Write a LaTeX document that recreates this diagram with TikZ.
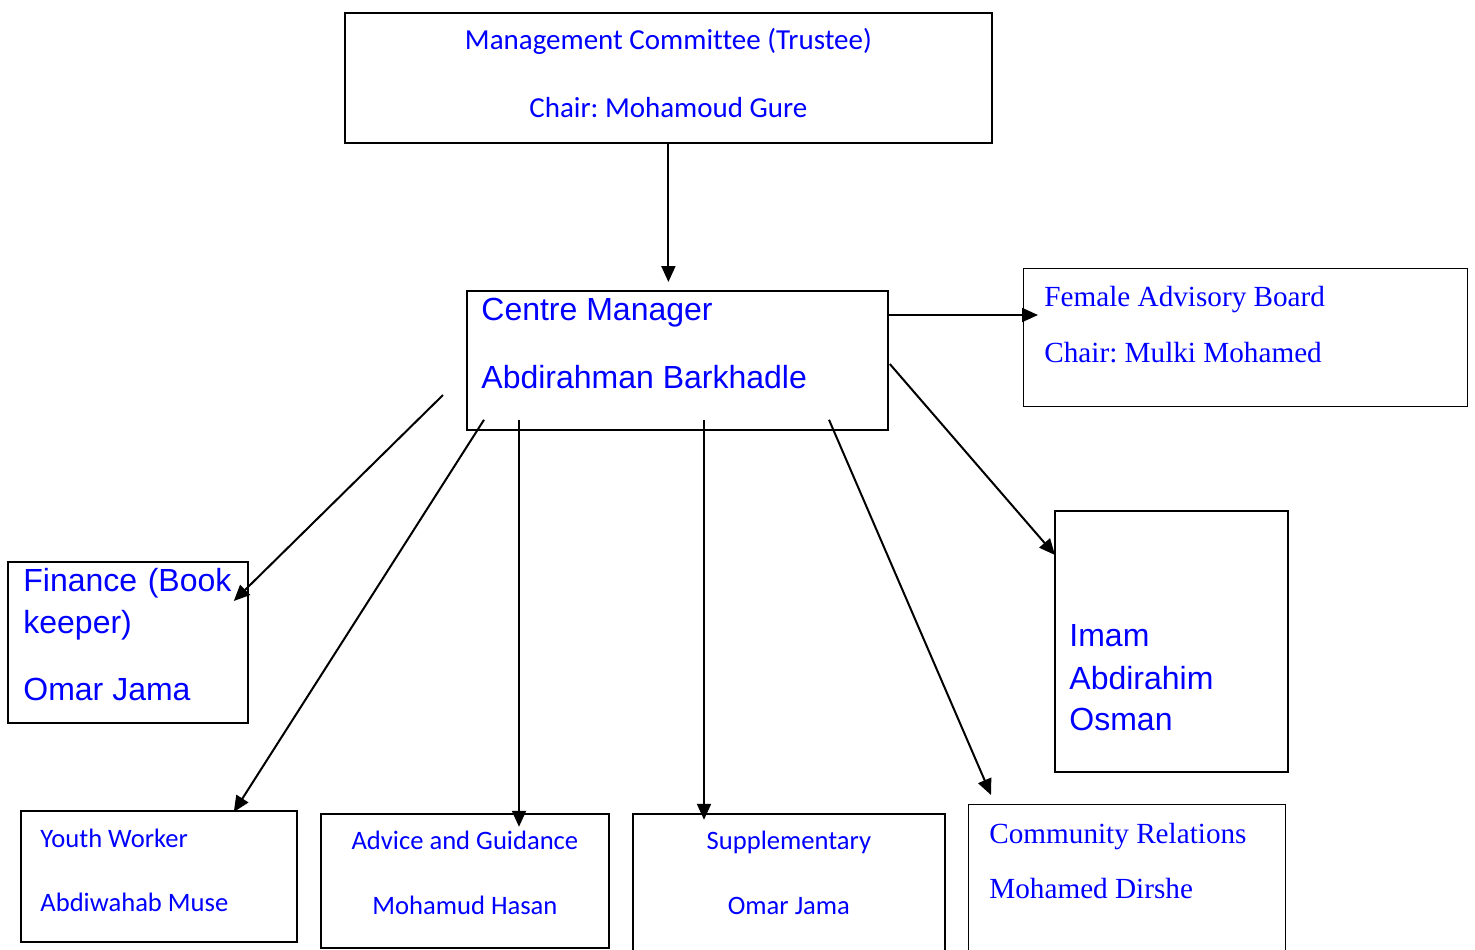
\documentclass[tikz,border=0pt]{standalone}
\usepackage{fontspec}
\usepackage{tikz}
\usetikzlibrary{arrows.meta,calc,positioning}
\newfontfamily\calibrifont[Ligatures=NoCommon]{Carlito}
\newfontfamily\arialfont{Liberation Sans}
\newfontfamily\timesfont{Liberation Serif}
\frenchspacing
\definecolor{txtblue}{RGB}{0,0,255}
\tikzstyle{org}=[
  >={Triangle[length=8pt,width=7pt]}, x=0.5pt, y=-0.5pt
]
\tikzstyle{box}=[
  draw, line width=0.9pt, rectangle, anchor=north west, inner sep=0pt
]
\tikzstyle{thinbox}=[
  box, line width=0.6pt
]
\tikzstyle{cal}=[
  inner sep=0pt, text=txtblue, font=\calibrifont\fontsize{14.5}{16}\selectfont
]
\tikzstyle{calsmall}=[
  inner sep=0pt, text=txtblue, font=\calibrifont\fontsize{13.3}{15}\selectfont
]
\tikzstyle{ari}=[
  inner sep=0pt, text=txtblue, font=\arialfont\fontsize{16}{18}\selectfont
]
\tikzstyle{tms}=[
  inner sep=0pt, text=txtblue, font=\timesfont\fontsize{14.6}{16}\selectfont
]
\tikzstyle{link}=[
  ->, line width=1pt
]

\begin{document}
\begin{tikzpicture}[org]
    \useasboundingbox (0,0) rectangle (1475,949);
    % boxes
    \node (mc) at (344,12) [box, minimum width=323.5pt, minimum height=65pt] {};
    \node (mgr) at (466,290) [box, minimum width=210.5pt, minimum height=69.5pt] {};
    \node (fab) at (1023,268) [thinbox, minimum width=222pt, minimum height=69pt] {};
    \node (fin) at (7,561) [box, minimum width=120pt, minimum height=80.5pt] {};
    \node (imam) at (1054,510) [box, minimum width=116.5pt, minimum height=130.5pt] {};
    \node (yw) at (20,810) [box, minimum width=138pt, minimum height=65.5pt] {};
    \node (adv) at (320,813) [box, minimum width=144pt, minimum height=67pt] {};
    \node (sup) at (632,813) [box, minimum width=156pt, minimum height=73.5pt] {};
    \node (com) at (968,804) [thinbox, minimum width=158.5pt, minimum height=78pt] {};
    % texts
    \node (mct1) at ($(mc.north)+(0,37)$) [cal, anchor=base] {Management Committee (Trustee)};
    \node (mct2) at ($(mc.north)+(0,105)$) [cal, anchor=base] {Chair: Mohamoud Gure};
    \node (mgrt1) at ($(mgr.north west)+(15,30)$) [ari, anchor=base west] {Centre Manager};
    \node (mgrt2) at ($(mgr.north west)+(15,98)$) [ari, anchor=base west] {Abdirahman Barkhadle};
    \node (fabt1) at ($(fab.north west)+(21,38)$) [tms, anchor=base west] {Female Advisory Board};
    \node (fabt2) at ($(fab.north west)+(21,94)$) [tms, anchor=base west] {Chair: Mulki Mohamed};
    \node (fint1) at ($(fin.north west)+(16,30)$) [ari, anchor=base west] {\makebox[104pt][s]{Finance (Book}};
    \node (fint2) at ($(fin.north west)+(16,72)$) [ari, anchor=base west] {keeper)};
    \node (fint3) at ($(fin.north west)+(16,139)$) [ari, anchor=base west] {Omar Jama};
    \node (imamt1) at ($(imam.north west)+(15,136)$) [ari, anchor=base west] {Imam};
    \node (imamt2) at ($(imam.north west)+(15,179)$) [ari, anchor=base west] {Abdirahim};
    \node (imamt3) at ($(imam.north west)+(15,220)$) [ari, anchor=base west] {Osman};
    \node (ywt1) at ($(yw.north west)+(20,37)$) [calsmall, anchor=base west] {Youth Worker};
    \node (ywt2) at ($(yw.north west)+(20,101)$) [calsmall, anchor=base west] {Abdiwahab Muse};
    \node (advt1) at ($(adv.north)+(0,36)$) [calsmall, anchor=base] {Advice and Guidance};
    \node (advt2) at ($(adv.north)+(0,101)$) [calsmall, anchor=base] {Mohamud Hasan};
    \node (supt1) at ($(sup.north)+(0,36)$) [calsmall, anchor=base] {Supplementary};
    \node (supt2) at ($(sup.north)+(0,101)$) [calsmall, anchor=base] {Omar Jama};
    \node (comt1) at ($(com.north west)+(21,39)$) [tms, anchor=base west] {Community Relations};
    \node (comt2) at ($(com.north west)+(21,94)$) [tms, anchor=base west] {Mohamed Dirshe};
    % connectors
    \draw [link] (mc.south) -- ($(mc.south |- mgr.north)+(0,-8)$);
    \draw [link] ($(mgr.north east)+(0,25)$) -- ($(fab.north west)+(15,47)$);
    \draw [link] ($(mgr.north west)+(-23,105)$) -- ($(fin.north east)+(-15,40)$);
    \draw [link] ($(mgr.south west)+(18,-11)$) -- ($(yw.north east)+(-64,2)$);
    \draw [link] ($(mgr.south west)+(53,-11)$) -- ($(mgr.south west)+(53,396)$);
    \draw [link] ($(mgr.south west)+(238,-11)$) -- ($(mgr.south west)+(238,389)$);
    \draw [link] ($(mgr.south west)+(363,-11)$) -- ($(com.north west)+(23,-9)$);
    \draw [link] ($(mgr.north east)+(1,74)$) -- ($(imam.north west)+(1,45)$);
\end{tikzpicture}
\end{document}
